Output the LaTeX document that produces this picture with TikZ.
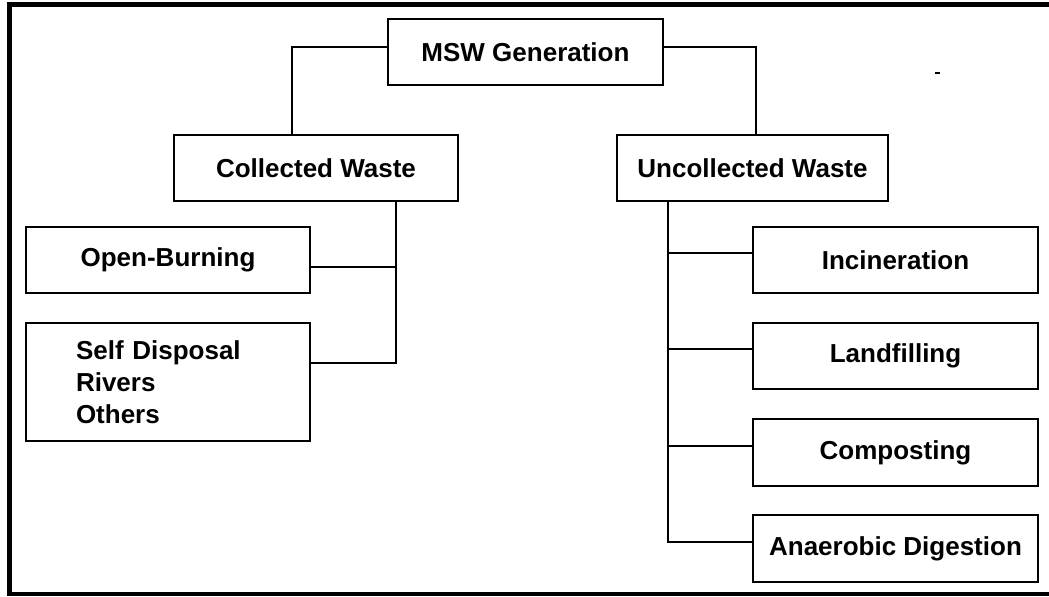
\documentclass[tikz,border=0pt]{standalone}
\usepackage{fontspec}
\setmainfont{Liberation Sans}
\begin{document}
\begin{tikzpicture}[x=0.75pt,y=-0.75pt,
  box/.style={draw,line width=1.1pt,inner sep=0pt,font=\fontsize{19.5}{24}\selectfont\bfseries,minimum width=#1},
  box/.default=213.75pt,
  conn/.style={line width=1.1pt},
  frame/.style={line width=3.75pt}]
\useasboundingbox (0,0) rectangle (1049,596);
% frame
\draw[frame] (7,4.5) -- (1049,4.5);
\draw[frame] (9.5,2) -- (9.5,596);
\draw[line width=3pt] (7,594) -- (1049,594);
\draw[line width=1.5pt] (935,73) -- (940,73);
% boxes
\node[box=206.25pt,minimum height=49.5pt] (msw) at (525.5,52) {MSW Generation};
\node[box=213pt,minimum height=49.5pt] (coll) at (316,168) {Collected Waste};
\node[box=203.25pt,minimum height=49.5pt] (unc) at (752.5,168) {Uncollected Waste};
\node[box=213pt,minimum height=49.5pt] (open) at (168,260) {Open-Burning};
\node[draw,line width=1.1pt,inner xsep=37.5pt,inner ysep=0pt,text width=138pt,align=left,
      minimum height=88.5pt,font=\fontsize{19.5}{24}\selectfont\bfseries] (self) at (168,382)
      {Self Disposal\\Rivers\\Others};
\node[box=213.75pt,minimum height=49.5pt] (inc) at (895.5,260) {Incineration};
\node[box=213.75pt,minimum height=49.5pt] (land) at (895.5,356) {Landfilling};
\node[box=213.75pt,minimum height=50.25pt] (comp) at (895.5,452.5) {Composting};
\node[box=213.75pt,minimum height=50.25pt] (ana) at (895.5,548.5) {Anaerobic Digestion};
% connectors
\coordinate (j1) at (292,47);
\coordinate (j2) at (756,47);
\draw[conn] (msw.west |- j1) -- (j1) -- (j1 |- coll.north);
\draw[conn] (msw.east |- j2) -- (j2) -- (j2 |- unc.north);
\coordinate (t1) at (396,363);
\coordinate (o1) at (396,267);
\draw[conn] (coll.south -| t1) -- (t1) -- (t1 -| self.east);
\draw[conn] (o1) -- (o1 -| open.east);
\coordinate (t2) at (668,542);
\coordinate (b1) at (668,253);
\coordinate (b2) at (668,349);
\coordinate (b3) at (668,446);
\draw[conn] (unc.south -| t2) -- (t2) -- (t2 -| ana.west);
\draw[conn] (b1) -- (b1 -| inc.west);
\draw[conn] (b2) -- (b2 -| land.west);
\draw[conn] (b3) -- (b3 -| comp.west);
\end{tikzpicture}
\end{document}
